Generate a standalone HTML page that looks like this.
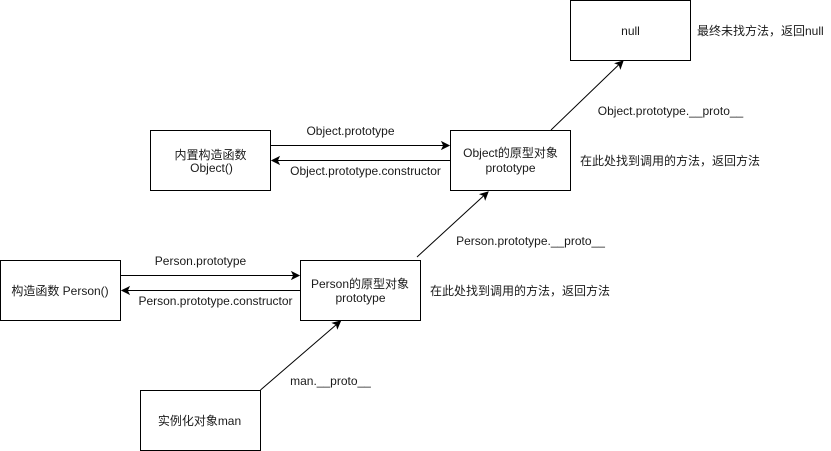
<!DOCTYPE html>
<html>
<head>
<meta charset="utf-8">
<style>
html,body{margin:0;padding:0;background:#fff;width:831px;height:451px;overflow:hidden}
svg{display:block}
text{font-family:"Liberation Sans","Noto Sans CJK SC",sans-serif;font-size:12px;fill:#1a1a1a}
rect{fill:#fff;stroke:#000;stroke-width:1}
line{stroke:#000;stroke-width:1}
path{fill:#000;stroke:#000;stroke-width:1}
</style>
</head>
<body>
<svg width="831" height="451" viewBox="0 0 831 451" xmlns="http://www.w3.org/2000/svg">
<rect x="570.5" y="0.5" width="120" height="60"/>
<rect x="150.5" y="130.5" width="120" height="60"/>
<rect x="450.5" y="130.5" width="120" height="60"/>
<rect x="0.5" y="260.5" width="120" height="60"/>
<rect x="300.5" y="260.5" width="120" height="60"/>
<rect x="140.5" y="390.5" width="120" height="60"/>

<line x1="270.5" y1="145.5" x2="444" y2="145.5"/>
<path d="M449 145.5 L442 149 L443.7 145.5 L442 142 Z"/>
<line x1="450.5" y1="160.5" x2="277" y2="160.5"/>
<path d="M272 160.5 L279 157 L277.3 160.5 L279 164 Z"/>
<line x1="120.5" y1="275.5" x2="294" y2="275.5"/>
<path d="M299 275.5 L292 279 L293.7 275.5 L292 272 Z"/>
<line x1="300.5" y1="290.5" x2="127" y2="290.5"/>
<path d="M122 290.5 L129 287 L127.3 290.5 L129 294 Z"/>

<line x1="260.5" y1="390" x2="336.5" y2="324.5"/>
<path d="M340.5 321 L337.4 328.2 L336.4 324.5 L332.9 323 Z"/>
<line x1="417" y1="257" x2="484" y2="195.5"/>
<path d="M488 192 L485.2 199.3 L484.1 195.6 L480.5 194.2 Z"/>
<line x1="551" y1="130" x2="619" y2="64.5"/>
<path d="M623 61 L620.4 68.3 L619.2 64.7 L615.6 63.3 Z"/>

<text x="630.5" y="35" text-anchor="middle">null</text>
<text x="697" y="35">最终未找方法，返回null</text>
<text x="210.5" y="159" text-anchor="middle">内置构造函数</text>
<text x="211.5" y="172" text-anchor="middle">Object()</text>
<text x="510.5" y="157" text-anchor="middle">Object的原型对象</text>
<text x="510.5" y="172" text-anchor="middle">prototype</text>
<text x="60" y="295" text-anchor="middle">构造函数 Person()</text>
<text x="360" y="288" text-anchor="middle">Person的原型对象</text>
<text x="360.5" y="302" text-anchor="middle">prototype</text>
<text x="199.5" y="425" text-anchor="middle">实例化对象man</text>
<text x="350.5" y="135" text-anchor="middle">Object.prototype</text>
<text x="365.5" y="175" text-anchor="middle">Object.prototype.constructor</text>
<text x="200.5" y="265" text-anchor="middle">Person.prototype</text>
<text x="215.5" y="305" text-anchor="middle">Person.prototype.constructor</text>
<text x="670.5" y="115" text-anchor="middle">Object.prototype.__proto__</text>
<text x="530.5" y="245" text-anchor="middle">Person.prototype.__proto__</text>
<text x="330.5" y="385" text-anchor="middle">man.__proto__</text>
<text x="580" y="165">在此处找到调用的方法，返回方法</text>
<text x="430" y="295">在此处找到调用的方法，返回方法</text>
</svg>
</body>
</html>
